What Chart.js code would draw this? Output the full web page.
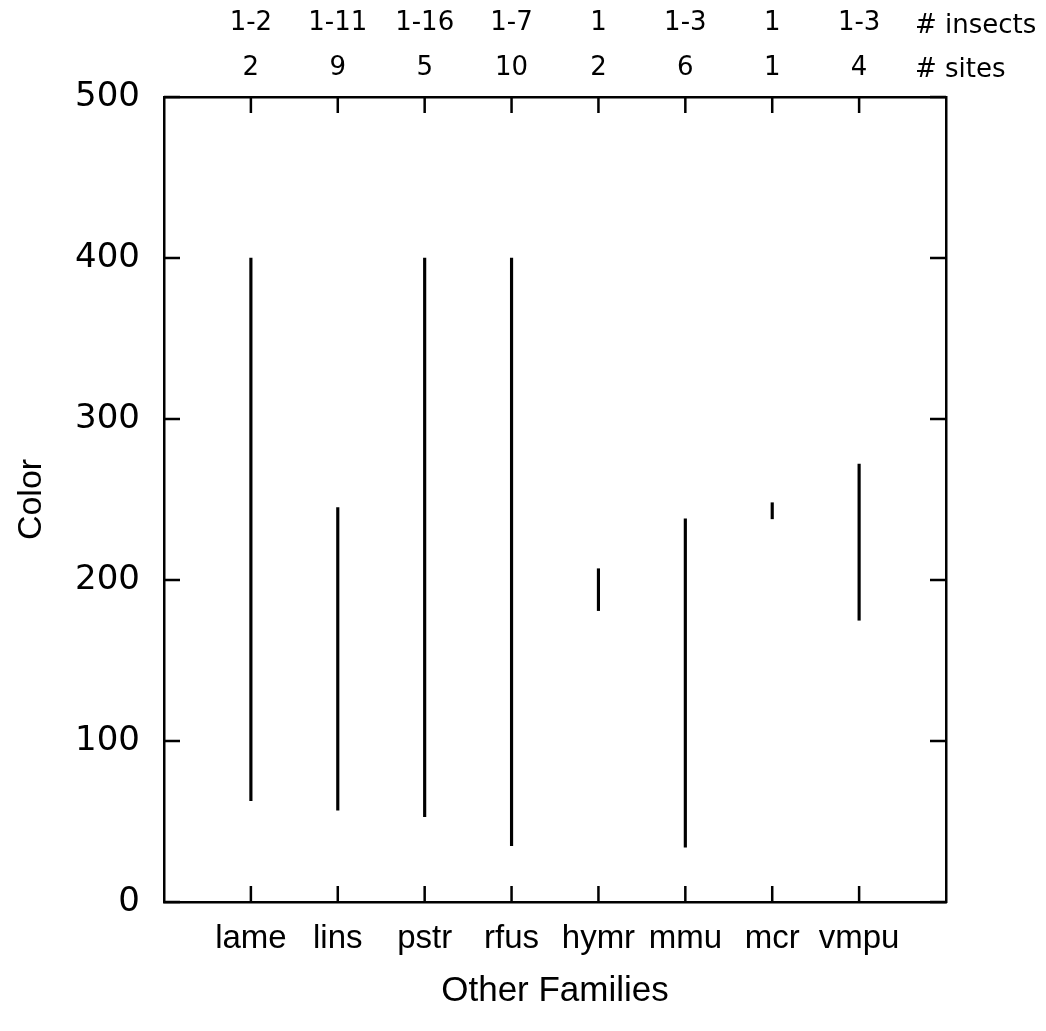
<!DOCTYPE html>
<html>
<head>
<meta charset="utf-8">
<title>Other Families - Color</title>
<script src="https://cdn.jsdelivr.net/npm/chart.js@4"></script>
<style>
    html, body { margin: 0; padding: 0; background: #fff; }
    #wrap { width: 1046px; height: 1031px; }
</style>
</head>
<body>
<div id="wrap"><canvas id="colorChart"></canvas></div>
<script>
// values
const categories = ['lame', 'lins', 'pstr', 'rfus', 'hymr', 'mmu', 'mcr', 'vmpu'];
const colorLow = [63, 57, 53, 35, 181, 34, 238, 175];
const colorHigh = [400, 245, 400, 400, 207, 238, 248, 272];
const insectCounts = ['1-2', '1-11', '1-16', '1-7', '1', '1-3', '1', '1-3'];
const siteCounts = ['2', '9', '5', '10', '2', '6', '1', '4'];
const yTicks = [0, 100, 200, 300, 400, 500];

const sans = '"Liberation Sans", Arial, sans-serif';
const wide = '"DejaVu Sans", Verdana, sans-serif';

// empty slot at each end so the families sit at 1..8 of 9 intervals
const xLabels = [''].concat(categories, ['']);
const topLabels = [''].concat(categories.map((c, i) => [insectCounts[i], siteCounts[i]]), ['']);
const ranges = [null].concat(categories.map((c, i) => [colorLow[i], colorHigh[i]]), [null]);

// tick marks pointing into the plot on all four sides, plus the row captions
const innerTicks = {
    id: 'innerTicks',
    afterDraw(chart) {
        const ctx = chart.ctx;
        const area = chart.chartArea;
        const x = chart.scales.x;
        const y = chart.scales.y;
        ctx.save();
        ctx.strokeStyle = '#000';
        ctx.lineWidth = 2.5;
        ctx.beginPath();
        yTicks.forEach(v => {
            const py = y.getPixelForValue(v);
            ctx.moveTo(area.left, py);
            ctx.lineTo(area.left + 16, py);
            ctx.moveTo(area.right, py);
            ctx.lineTo(area.right - 16, py);
        });
        categories.forEach((c, i) => {
            const px = x.getPixelForValue(i + 1);
            ctx.moveTo(px, area.bottom);
            ctx.lineTo(px, area.bottom - 16);
            ctx.moveTo(px, area.top);
            ctx.lineTo(px, area.top + 16);
        });
        ctx.stroke();

        ctx.fillStyle = '#000';
        ctx.font = '26px ' + wide;
        ctx.textAlign = 'left';
        ctx.textBaseline = 'alphabetic';
        ctx.fillText('# insects', area.right - 31, 33);
        ctx.fillText('# sites', area.right - 31, 77);
        ctx.restore();
    }
};

const ctx = document.getElementById('colorChart').getContext('2d');
new Chart(ctx, {
    type: 'bar',
    data: {
        labels: xLabels,
        datasets: [{
            data: ranges,
            backgroundColor: '#000',
            borderWidth: 0,
            barThickness: 2.5,
            xAxisID: 'x',
            yAxisID: 'y'
        }]
    },
    options: {
        responsive: true,
        maintainAspectRatio: false,
        animation: false,
        layout: { padding: 0 },
        plugins: {
            legend: { display: false },
            tooltip: { enabled: false }
        },
        scales: {
            x: {
                type: 'category',
                position: 'bottom',
                offset: false,
                grid: { display: false, drawTicks: false },
                border: { display: true, color: '#000', width: 2.5 },
                ticks: {
                    color: '#000',
                    font: { family: sans, size: 33 },
                    padding: 17,
                    maxRotation: 0,
                    autoSkip: false
                },
                title: {
                    display: true,
                    text: 'Other Families',
                    color: '#000',
                    font: { family: sans, size: 35 },
                    padding: { top: 0, bottom: 19 }
                },
                afterFit(scale) { scale.height = 129; }
            },
            x2: {
                type: 'category',
                position: 'top',
                labels: topLabels,
                offset: false,
                grid: { display: false, drawTicks: false },
                border: { display: true, color: '#000', width: 2.5 },
                ticks: {
                    color: '#000',
                    font: { family: wide, size: 26, lineHeight: 1.7 },
                    padding: 7,
                    maxRotation: 0,
                    autoSkip: false
                },
                afterFit(scale) { scale.height = 97; }
            },
            y: {
                type: 'linear',
                position: 'left',
                min: 0,
                max: 500,
                grid: { display: false, drawTicks: false },
                border: { display: true, color: '#000', width: 2.5 },
                ticks: {
                    stepSize: 100,
                    color: '#000',
                    font: { family: wide, size: 34 },
                    padding: 24
                },
                title: {
                    display: true,
                    text: 'Color',
                    color: '#000',
                    font: { family: sans, size: 34 },
                    padding: { top: 11, bottom: 0 }
                },
                afterFit(scale) { scale.width = 164; }
            },
            y2: {
                type: 'linear',
                position: 'right',
                min: 0,
                max: 500,
                grid: { display: false, drawTicks: false },
                border: { display: true, color: '#000', width: 2.5 },
                ticks: { display: false },
                afterFit(scale) { scale.width = 100; }
            }
        }
    },
    plugins: [innerTicks]
});
</script>
</body>
</html>
